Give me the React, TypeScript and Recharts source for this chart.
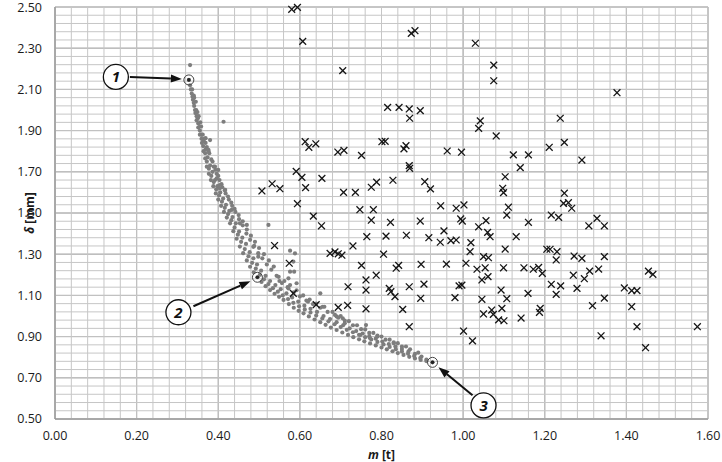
import {
  CartesianGrid,
  ReferenceDot,
  ReferenceLine,
  Scatter,
  ScatterChart,
  XAxis,
  YAxis,
} from 'recharts'

// m [t], δ [mm] pairs
const paretoFront: [number, number][] = [
  [0.328, 2.146], [0.331, 2.12], [0.335, 2.08], [0.338, 2.05], [0.341, 2.02],
  [0.344, 1.985], [0.347, 1.95], [0.351, 1.915], [0.355, 1.88], [0.36, 1.84],
  [0.364, 1.8], [0.368, 1.765], [0.372, 1.725], [0.377, 1.69], [0.382, 1.66],
  [0.388, 1.63], [0.394, 1.595], [0.4, 1.565], [0.407, 1.535], [0.414, 1.505],
  [0.421, 1.478], [0.429, 1.45], [0.437, 1.412], [0.445, 1.375], [0.453, 1.337],
  [0.461, 1.305], [0.47, 1.27], [0.478, 1.239], [0.487, 1.212], [0.496, 1.188],
  [0.506, 1.165], [0.516, 1.145], [0.527, 1.126], [0.538, 1.108], [0.549, 1.093],
  [0.56, 1.078], [0.573, 1.058], [0.585, 1.04], [0.597, 1.025], [0.609, 1.013],
  [0.622, 0.998], [0.636, 0.983], [0.65, 0.97], [0.663, 0.957], [0.676, 0.944],
  [0.69, 0.932], [0.704, 0.92], [0.718, 0.908], [0.731, 0.897], [0.745, 0.887],
  [0.758, 0.877], [0.772, 0.867], [0.786, 0.857], [0.8, 0.847], [0.813, 0.838],
  [0.827, 0.829], [0.84, 0.82], [0.854, 0.811], [0.868, 0.802], [0.882, 0.794],
  [0.896, 0.787], [0.91, 0.781], [0.925, 0.775],
]

const populationNear: [number, number][] = [
  [0.333, 2.1], [0.337, 2.065], [0.34, 2.035], [0.343, 2.0], [0.347, 1.97],
  [0.351, 1.935], [0.355, 1.9], [0.359, 1.86], [0.363, 1.825], [0.368, 1.79],
  [0.372, 1.75], [0.377, 1.715], [0.383, 1.68], [0.389, 1.65], [0.395, 1.615],
  [0.402, 1.585], [0.409, 1.555], [0.416, 1.525], [0.424, 1.495], [0.432, 1.465],
  [0.44, 1.43], [0.448, 1.395], [0.456, 1.36], [0.465, 1.325], [0.474, 1.29],
  [0.483, 1.258], [0.492, 1.23], [0.502, 1.2], [0.512, 1.178], [0.523, 1.155],
  [0.534, 1.135], [0.546, 1.118], [0.558, 1.1], [0.571, 1.082], [0.584, 1.064],
  [0.598, 1.047], [0.612, 1.032], [0.626, 1.017], [0.64, 1.002], [0.655, 0.988],
  [0.67, 0.974], [0.685, 0.96], [0.7, 0.946], [0.715, 0.933], [0.73, 0.921],
  [0.745, 0.909], [0.76, 0.897], [0.775, 0.886], [0.79, 0.874], [0.805, 0.862],
  [0.82, 0.85], [0.835, 0.839], [0.85, 0.828], [0.865, 0.817], [0.88, 0.806],
  [0.895, 0.796], [0.91, 0.788],
]

const populationInner: [number, number][] = [
  [0.336, 2.1], [0.341, 2.06], [0.346, 2.0], [0.35, 1.96], [0.355, 1.92],
  [0.359, 1.88], [0.364, 1.85], [0.369, 1.81], [0.374, 1.77], [0.38, 1.73],
  [0.386, 1.7], [0.392, 1.66], [0.398, 1.63], [0.405, 1.6], [0.412, 1.57],
  [0.419, 1.54], [0.427, 1.51], [0.435, 1.48], [0.443, 1.45], [0.451, 1.41],
  [0.459, 1.38], [0.468, 1.35], [0.477, 1.31], [0.486, 1.28], [0.495, 1.25],
  [0.505, 1.22], [0.516, 1.195], [0.527, 1.17], [0.54, 1.15], [0.553, 1.13],
  [0.567, 1.11], [0.581, 1.09], [0.596, 1.07], [0.611, 1.05], [0.626, 1.035],
  [0.642, 1.02], [0.658, 1.0], [0.674, 0.985], [0.69, 0.97], [0.706, 0.955],
  [0.722, 0.94], [0.738, 0.927], [0.754, 0.915], [0.77, 0.902], [0.786, 0.89],
  [0.802, 0.876], [0.818, 0.864], [0.834, 0.852], [0.85, 0.84], [0.866, 0.828],
  [0.882, 0.816], [0.898, 0.803],
]

const populationMid: [number, number][] = [
  [0.34, 2.07], [0.349, 1.99], [0.356, 1.94], [0.362, 1.88], [0.369, 1.84],
  [0.376, 1.8], [0.383, 1.76], [0.389, 1.725], [0.396, 1.69], [0.403, 1.66],
  [0.41, 1.625], [0.418, 1.595], [0.426, 1.565], [0.434, 1.535], [0.442, 1.505],
  [0.451, 1.47], [0.46, 1.44], [0.469, 1.4], [0.478, 1.37], [0.488, 1.34],
  [0.498, 1.305], [0.508, 1.28], [0.519, 1.25], [0.53, 1.225], [0.543, 1.195],
  [0.556, 1.16], [0.57, 1.14], [0.585, 1.115], [0.6, 1.095], [0.616, 1.075],
  [0.632, 1.058], [0.65, 1.04], [0.668, 1.02], [0.69, 0.998], [0.71, 0.978],
  [0.73, 0.955], [0.75, 0.936], [0.77, 0.918], [0.79, 0.9], [0.81, 0.885],
  [0.83, 0.868], [0.85, 0.852], [0.87, 0.838], [0.89, 0.822],
]

const populationOuter: [number, number][] = [
  [0.345, 2.04], [0.352, 1.97], [0.358, 1.92], [0.366, 1.86], [0.372, 1.82],
  [0.378, 1.79], [0.386, 1.75], [0.393, 1.71], [0.4, 1.68], [0.408, 1.64],
  [0.416, 1.61], [0.424, 1.58], [0.432, 1.55], [0.44, 1.52], [0.45, 1.49],
  [0.46, 1.46], [0.47, 1.42], [0.48, 1.39], [0.49, 1.36], [0.5, 1.33],
  [0.512, 1.3], [0.524, 1.27], [0.536, 1.24], [0.548, 1.19], [0.562, 1.17],
  [0.576, 1.15], [0.592, 1.125], [0.608, 1.1], [0.624, 1.08], [0.64, 1.06],
  [0.656, 1.045], [0.68, 1.02], [0.7, 1.0], [0.72, 0.975], [0.74, 0.955],
  [0.76, 0.935], [0.78, 0.918], [0.8, 0.9], [0.82, 0.885], [0.84, 0.868],
  [0.86, 0.852],
]

const populationStray: [number, number][] = [
  [0.331, 2.218], [0.413, 1.943], [0.369, 1.863], [0.38, 1.854], [0.376, 1.806],
  [0.392, 1.725], [0.4, 1.709], [0.396, 1.668], [0.404, 1.62], [0.417, 1.612],
  [0.404, 1.636], [0.433, 1.515], [0.453, 1.45], [0.47, 1.442], [0.523, 1.442],
  [0.486, 1.336], [0.498, 1.288], [0.576, 1.317], [0.588, 1.304], [0.584, 1.264],
  [0.576, 1.215], [0.572, 1.183], [0.592, 1.159], [0.586, 1.215], [0.572, 1.134],
  [0.65, 1.11], [0.686, 1.005], [0.694, 0.992], [0.705, 0.989], [0.762, 0.956],
  [0.748, 0.908], [0.772, 0.892], [0.62, 1.07], [0.66, 1.045], [0.71, 0.965],
  [0.79, 0.905], [0.83, 0.872], [0.55, 1.17],
]

const designs: [number, number][] = [
  [0.58, 2.489], [0.594, 2.498], [0.607, 2.333], [0.705, 2.191], [0.873, 2.372],
  [0.882, 2.385], [1.03, 2.324], [1.075, 2.218], [1.075, 2.142], [0.815, 2.013],
  [0.843, 2.013], [0.868, 2.005], [0.895, 1.997], [0.869, 1.96], [1.042, 1.947],
  [1.038, 1.911], [1.081, 1.874], [0.613, 1.846], [0.622, 1.819], [0.639, 1.836],
  [0.693, 1.796], [0.708, 1.804], [0.751, 1.78], [0.801, 1.846], [0.809, 1.848],
  [0.855, 1.811], [0.86, 1.827], [0.961, 1.801], [0.996, 1.795], [0.868, 1.73],
  [0.869, 1.717], [0.591, 1.702], [0.605, 1.673], [0.654, 1.668], [0.614, 1.623],
  [0.532, 1.642], [0.551, 1.618], [0.507, 1.607], [0.707, 1.6], [0.736, 1.6],
  [0.775, 1.625], [0.788, 1.65], [0.828, 1.659], [0.906, 1.652], [0.92, 1.617],
  [0.594, 1.545], [0.747, 1.516], [0.78, 1.516], [0.945, 1.535], [0.983, 1.523],
  [1.002, 1.539], [0.633, 1.485], [0.653, 1.438], [0.775, 1.465], [0.822, 1.455],
  [0.895, 1.461], [0.994, 1.471], [0.998, 1.461], [0.953, 1.413], [1.038, 1.433],
  [0.764, 1.385], [0.811, 1.388], [0.861, 1.392], [0.916, 1.38], [0.944, 1.358],
  [0.97, 1.366], [0.983, 1.369], [1.019, 1.356], [0.73, 1.34], [0.674, 1.304],
  [0.686, 1.311], [0.694, 1.302], [0.703, 1.295], [0.805, 1.3], [1.017, 1.312],
  [0.574, 1.256], [0.751, 1.246], [0.836, 1.232], [0.842, 1.246], [0.897, 1.251],
  [0.959, 1.252], [1.007, 1.256], [1.034, 1.227], [0.787, 1.198], [0.762, 1.175],
  [0.718, 1.142], [0.762, 1.126], [0.819, 1.134], [0.823, 1.118], [0.833, 1.094],
  [0.868, 1.142], [0.904, 1.155], [0.896, 1.086], [0.98, 1.089], [0.99, 1.146],
  [0.997, 1.15], [0.584, 1.11], [0.64, 1.055], [0.694, 1.042], [0.717, 1.052],
  [0.762, 1.035], [0.852, 1.032], [0.538, 1.342], [0.868, 0.948], [1.001, 0.927],
  [1.023, 0.879], [1.111, 1.528], [1.107, 1.49], [1.056, 1.463], [1.06, 1.406],
  [1.066, 1.385], [1.16, 1.455], [1.13, 1.385], [1.103, 1.325], [1.05, 1.288],
  [1.062, 1.283], [1.054, 1.234], [1.061, 1.191], [1.099, 1.234], [1.046, 1.175],
  [1.046, 1.081], [1.093, 1.126], [1.107, 1.084], [1.05, 1.01], [1.07, 1.029],
  [1.074, 1.008], [1.095, 1.037], [1.087, 0.981], [1.1, 0.977], [1.142, 0.99],
  [1.159, 1.11], [1.149, 1.234], [1.172, 1.227], [1.185, 1.236], [1.194, 1.207],
  [1.189, 1.037], [1.187, 1.018], [1.216, 1.49], [1.234, 1.479], [1.246, 1.547],
  [1.258, 1.55], [1.266, 1.523], [1.205, 1.324], [1.213, 1.324], [1.23, 1.312],
  [1.228, 1.272], [1.216, 1.154], [1.239, 1.146], [1.228, 1.105], [1.272, 1.291],
  [1.291, 1.28], [1.346, 1.288], [1.27, 1.198], [1.297, 1.181], [1.31, 1.218],
  [1.332, 1.228], [1.279, 1.134], [1.308, 1.438], [1.328, 1.474], [1.346, 1.438],
  [1.317, 1.05], [1.346, 1.087], [1.338, 0.904], [1.395, 1.136], [1.413, 1.123],
  [1.426, 1.123], [1.413, 1.045], [1.426, 0.948], [1.447, 0.846], [1.454, 1.218],
  [1.465, 1.202], [1.574, 0.948], [1.377, 2.084], [1.238, 1.96], [1.248, 1.843],
  [1.211, 1.819], [1.123, 1.782], [1.16, 1.782], [1.14, 1.72], [1.291, 1.757],
  [1.103, 1.676], [1.097, 1.62], [1.099, 1.599], [1.248, 1.596],
]

const marked = [
  { id: '1', m: 0.328, d: 2.146 },
  { id: '2', m: 0.496, d: 1.188 },
  { id: '3', m: 0.925, d: 0.775 },
]

const xTicks = [0, 0.2, 0.4, 0.6, 0.8, 1.0, 1.2, 1.4, 1.6]
const yTicks = [0.5, 0.7, 0.9, 1.1, 1.3, 1.5, 1.7, 1.9, 2.1, 2.3, 2.5]
const xMinor = Array.from({ length: 41 }, (_, i) => +(i * 0.04).toFixed(2))
const yMinor = Array.from({ length: 51 }, (_, i) => +(0.5 + i * 0.04).toFixed(2))

// callout placement, pixels relative to the marked point
const calloutOffsets: Record<string, { cx: number; cy: number; tx: number; ty: number; hx: number; hy: number }> = {
  '1': { cx: -73, cy: -3, tx: -59, ty: -3, hx: -7, hy: -1 },
  '2': { cx: -79, cy: 35, tx: -64, ty: 29, hx: -7, hy: 4 },
  '3': { cx: 51, cy: 43, tx: 40, ty: 33, hx: 6, hy: 5 },
}

const toPoints = (arr: [number, number][]) => arr.map(([m, d]) => ({ m, d }))

const font = '"Open Sans", sans-serif'

function GrayDot(props: any) {
  const { cx, cy } = props
  return <circle cx={cx} cy={cy} r={2.1} fill="#7d7d7d" />
}

function XMark(props: any) {
  const { cx, cy } = props
  const s = 3.4
  return (
    <g stroke="#151515" strokeWidth={1.3}>
      <line x1={cx - s} y1={cy - s} x2={cx + s} y2={cy + s} />
      <line x1={cx - s} y1={cy + s} x2={cx + s} y2={cy - s} />
    </g>
  )
}

function callout(id: string) {
  return (props: any) => {
    const { cx, cy } = props
    const o = calloutOffsets[id]
    const x1 = cx + o.tx
    const y1 = cy + o.ty
    const x2 = cx + o.hx
    const y2 = cy + o.hy
    const len = Math.hypot(x2 - x1, y2 - y1)
    const ux = (x2 - x1) / len
    const uy = (y2 - y1) / len
    const hl = 11
    const hw = 4
    const bx = x2 - ux * hl
    const by = y2 - uy * hl
    return (
      <g>
        <circle cx={cx} cy={cy} r={5} fill="none" stroke="#444" strokeWidth={1} />
        <circle cx={cx} cy={cy} r={1.8} fill="#222" />
        <line x1={x1} y1={y1} x2={bx} y2={by} stroke="#111" strokeWidth={2} />
        <polygon
          points={`${x2},${y2} ${bx - uy * hw},${by + ux * hw} ${bx + uy * hw},${by - ux * hw}`}
          fill="#111"
        />
        <circle cx={cx + o.cx} cy={cy + o.cy} r={12.5} fill="#fff" stroke="#111" strokeWidth={1.3} />
        <text
          x={cx + o.cx}
          y={cy + o.cy + 5.5}
          textAnchor="middle"
          fontFamily={font}
          fontSize={15}
          fontWeight={700}
          fontStyle="italic"
          fill="#111"
        >
          {id}
        </text>
      </g>
    )
  }
}

export default function App() {
  return (
    <div style={{ position: 'absolute', left: 0, top: 0, background: '#fff' }}>
      <ScatterChart
        width={722}
        height={462}
        margin={{ top: 7, right: 14, bottom: 0, left: 0 }}
      >
        {xMinor.map((v) => (
          <ReferenceLine key={'xm' + v} x={v} stroke="#c6c6c6" strokeWidth={1} />
        ))}
        {yMinor.map((v) => (
          <ReferenceLine key={'ym' + v} y={v} stroke="#c6c6c6" strokeWidth={1} />
        ))}
        <CartesianGrid stroke="#8c8c8c" strokeWidth={1} />
        <XAxis
          type="number"
          dataKey="m"
          domain={[0, 1.6]}
          ticks={xTicks}
          tickFormatter={(v: number) => v.toFixed(2)}
          tickLine={false}
          tickSize={0}
          tickMargin={12}
          height={43}
          stroke="#8c8c8c"
          tick={{ fill: '#1a1a1a', fontSize: 12.5, fontFamily: font }}
          label={{
            content: (p: any) => (
              <text
                x={p.viewBox.x + p.viewBox.width / 2}
                y={p.viewBox.y + 40}
                textAnchor="middle"
                fontFamily={font}
                fontSize={12}
                fontWeight={700}
                fill="#1a1a1a"
              >
                <tspan fontStyle="italic">m</tspan> [t]
              </text>
            ),
          }}
        />
        <YAxis
          type="number"
          dataKey="d"
          domain={[0.5, 2.5]}
          ticks={yTicks}
          tickFormatter={(v: number) => v.toFixed(2)}
          tickLine={false}
          tickSize={0}
          tickMargin={13}
          width={55}
          stroke="#8c8c8c"
          tick={{ fill: '#1a1a1a', fontSize: 12.5, fontFamily: font }}
          label={{
            content: (p: any) => (
              <text
                transform={`translate(${p.viewBox.x + 34},${p.viewBox.y + p.viewBox.height / 2}) rotate(-90)`}
                textAnchor="middle"
                fontFamily={font}
                fontSize={12}
                fontWeight={700}
                fill="#1a1a1a"
              >
                <tspan fontStyle="italic">δ</tspan> [mm]
              </text>
            ),
          }}
        />
        <Scatter data={toPoints(populationOuter)} shape={GrayDot} isAnimationActive={false} />
        <Scatter data={toPoints(populationMid)} shape={GrayDot} isAnimationActive={false} />
        <Scatter data={toPoints(populationInner)} shape={GrayDot} isAnimationActive={false} />
        <Scatter data={toPoints(populationNear)} shape={GrayDot} isAnimationActive={false} />
        <Scatter data={toPoints(populationStray)} shape={GrayDot} isAnimationActive={false} />
        <Scatter data={toPoints(paretoFront)} shape={GrayDot} isAnimationActive={false} />
        <Scatter data={toPoints(designs)} shape={XMark} isAnimationActive={false} />
        {marked.map((p) => (
          <ReferenceDot key={p.id} x={p.m} y={p.d} r={5} shape={callout(p.id)} />
        ))}
      </ScatterChart>
    </div>
  )
}
